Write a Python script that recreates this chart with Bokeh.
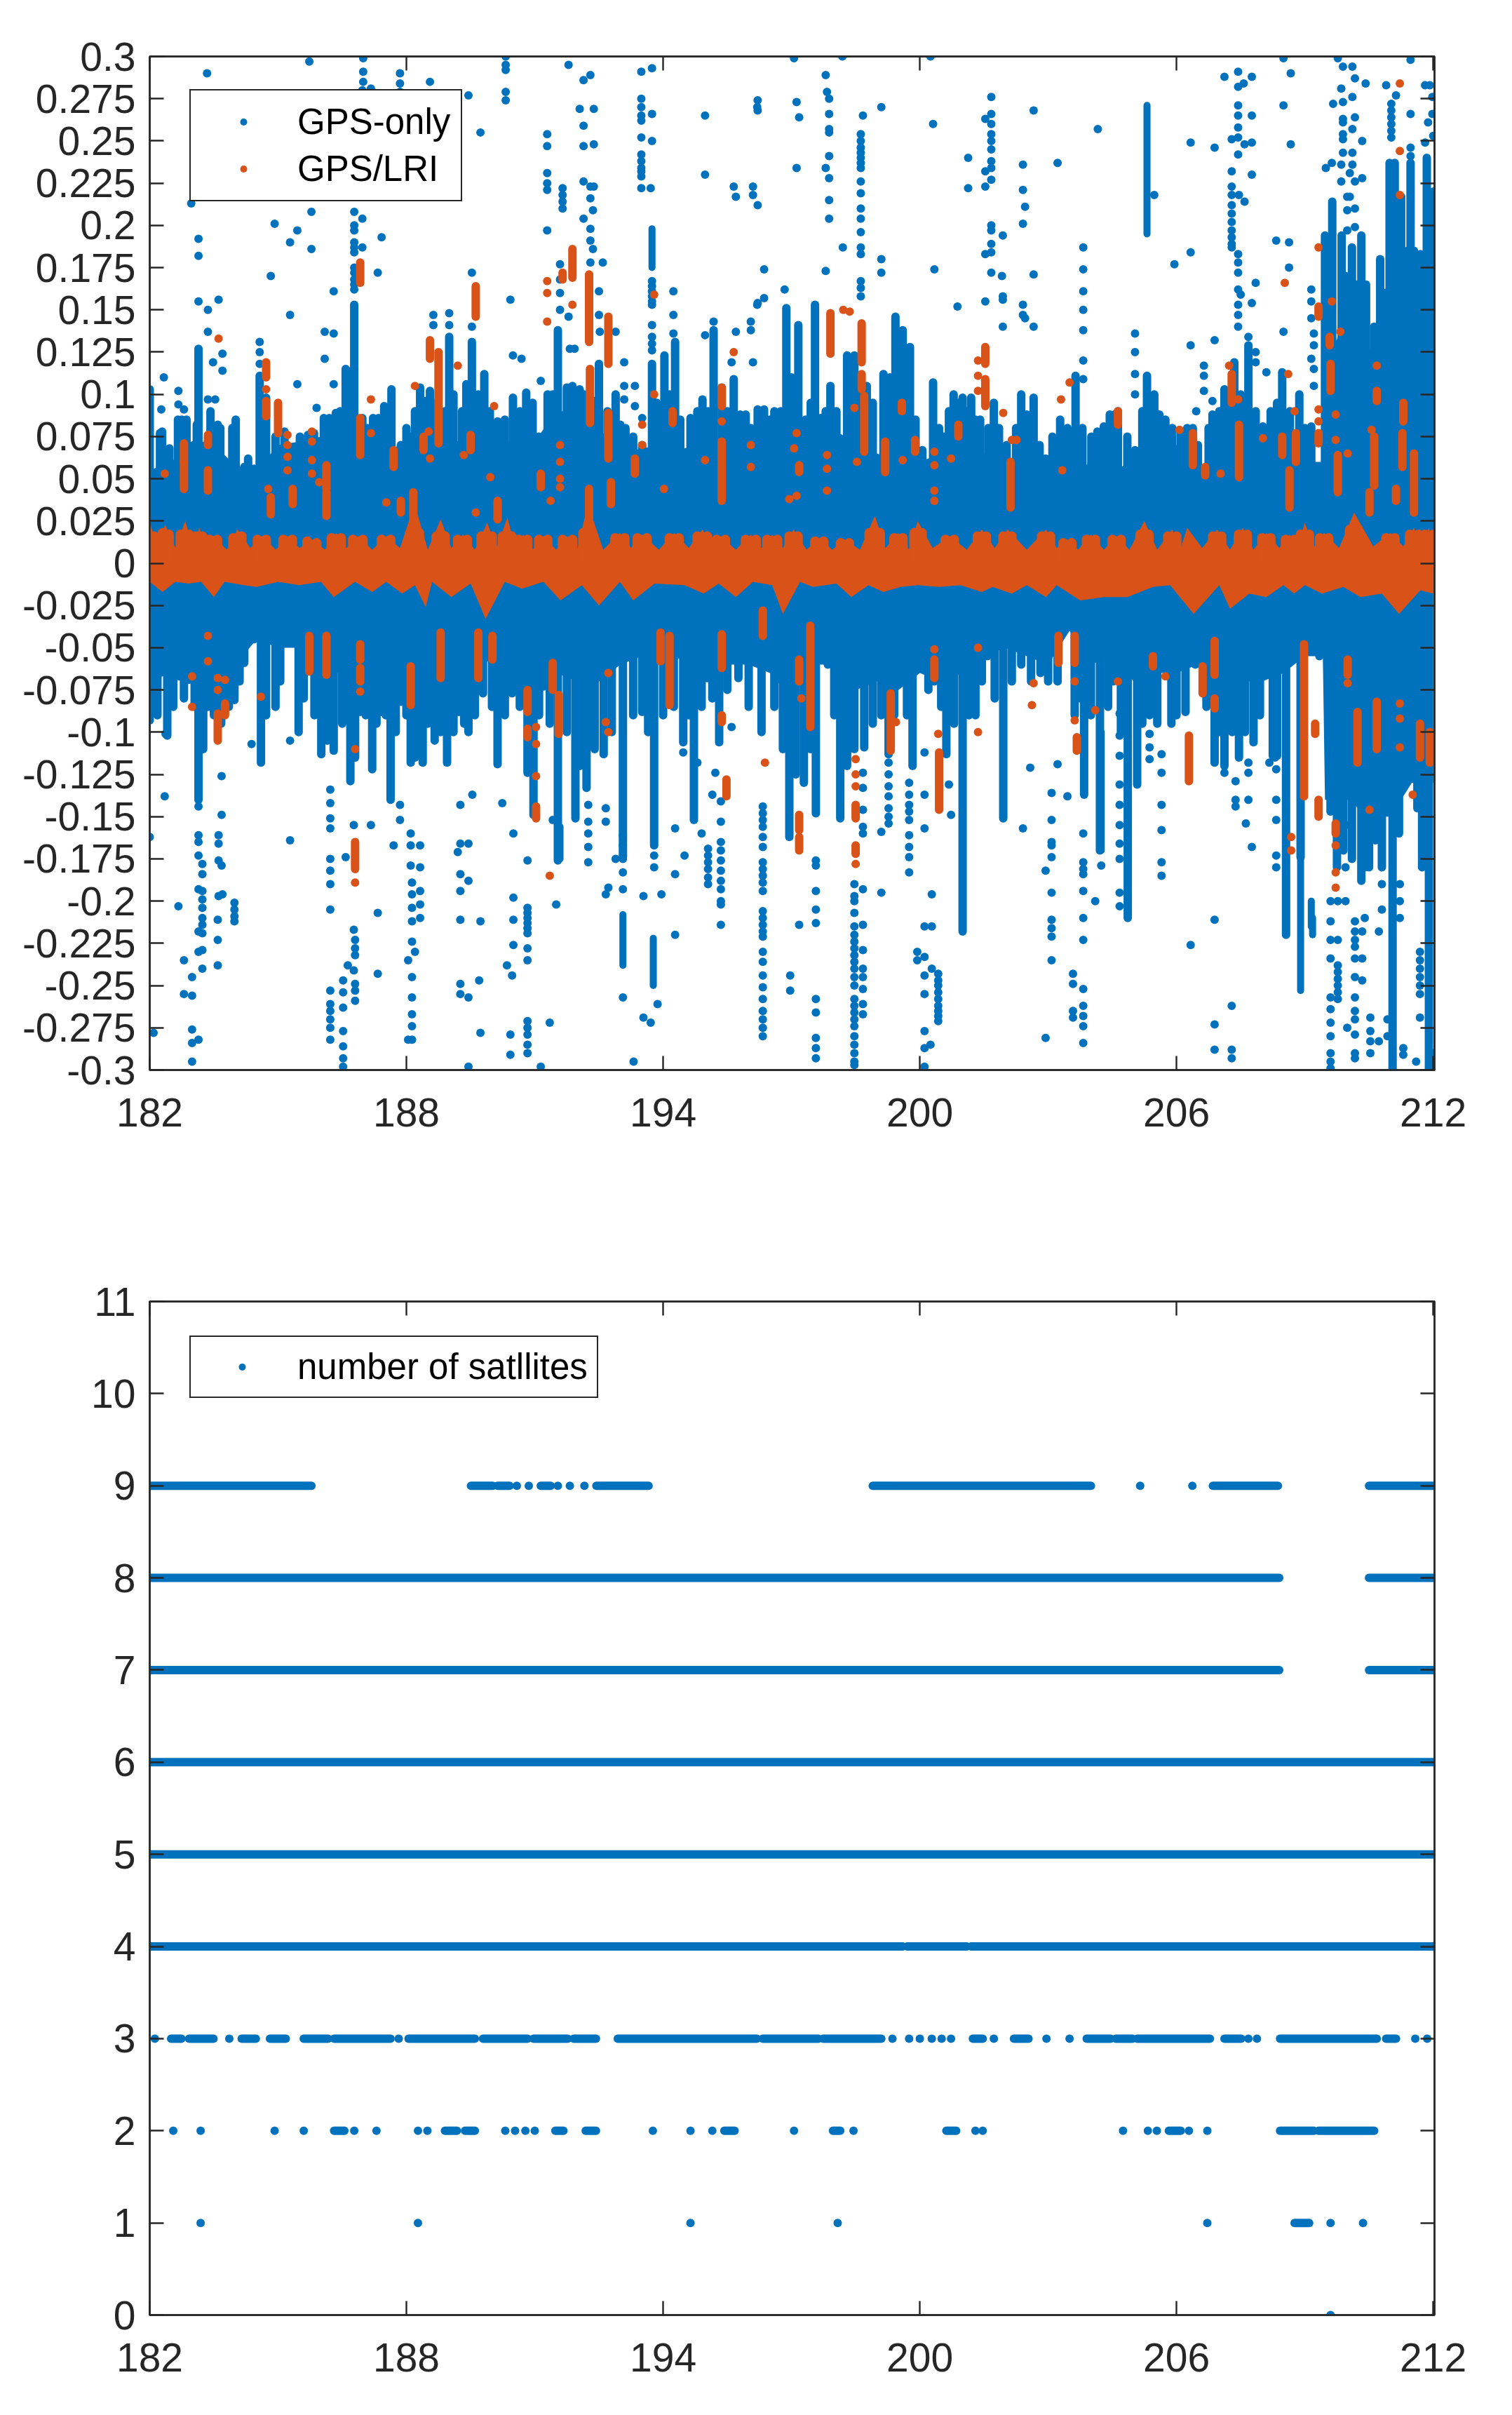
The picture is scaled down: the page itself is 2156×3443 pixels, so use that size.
from bokeh.plotting import figure
from bokeh.layouts import column
from bokeh.models import FixedTicker, LinearAxis, Range1d, Legend, LegendItem
from bokeh.embed import file_html
from bokeh.resources import INLINE

BLUE = "#0072BD"
ORANGE = "#D95319"
INK = "#262626"
FONT = "Liberation Sans"

x_ticks = [182, 188, 194, 200, 206, 212]
y1_ticks = [-0.3, -0.275, -0.25, -0.225, -0.2, -0.175, -0.15, -0.125, -0.1, -0.075, -0.05, -0.025, 0,
            0.025, 0.05, 0.075, 0.1, 0.125, 0.15, 0.175, 0.2, 0.225, 0.25, 0.275, 0.3]
y1_labels = ["-0.3", "-0.275", "-0.25", "-0.225", "-0.2", "-0.175", "-0.15", "-0.125", "-0.1", "-0.075", "-0.05", "-0.025", "0",
             "0.025", "0.05", "0.075", "0.1", "0.125", "0.15", "0.175", "0.2", "0.225", "0.25", "0.275", "0.3"]
y2_ticks = [0, 1, 2, 3, 4, 5, 6, 7, 8, 9, 10, 11]

# GPS-only: dense core envelope
blue_core_x = [182, 182.5, 183, 183.5, 184, 184.5, 185, 185.5, 186, 186.5, 187, 187.5, 188, 188.5, 189, 189.5, 190, 190.5, 191, 191.5,
               192, 192.5, 193, 193.5, 194, 194.5, 195, 195.5, 196, 196.5, 197, 197.5, 198, 198.5, 199, 199.5, 200, 200.5, 201, 201.5,
               202, 202.5, 203, 203.5, 204, 204.5, 205, 205.5, 206, 206.5, 207, 207.5, 208, 208.5, 209, 209.42, 209.47, 210, 210.5, 211, 211.5, 212]
blue_core_top = [.055, .06, .07, .07, .058, .055, .07, .072, .075, .075, .072, .068, .07, .072, .07, .075, .07, .072, .072, .09,
                 .09, .08, .065, .068, .07, .068, .072, .068, .068, .07, .075, .075, .075, .07, .065, .06, .06, .065, .068, .065,
                 .06, .055, .058, .052, .06, .055, .06, .075, .07, .058, .055, .065, .065, .065, .06, .06, .12, .144, .125, .16, .16, .165]
blue_core_bot = [-.07, -.065, -.055, -.07, -.06, -.045, -.05, -.05, -.065, -.065, -.07, -.07, -.07, -.07, -.07, -.07, -.055, -.06, -.055, -.065,
                 -.07, -.07, -.06, -.055, -.06, -.055, -.055, -.06, -.06, -.065, -.08, -.06, -.06, -.075, -.07, -.075, -.065, -.07, -.065, -.055,
                 -.05, -.055, -.06, -.04, -.06, -.055, -.07, -.065, -.065, -.06, -.07, -.07, -.07, -.065, -.055, -.055, -.14, -.14, -.15, -.15, -.13, -.13]

# GPS-only: comb of spikes, (day, tip)
blue_up_a = [(182,.103),(182.12,.053),(182.24,.077),(182.29,.078),(182.46,.068),(182.66,.085),(182.75,.085),(182.86,.085),(183.03,.07),(183.14,.127),(183.31,.07),(183.42,.09),
             (183.59,.082),(183.65,.08),(183.76,.055),(184.01,.085),(184.21,.057),(184.44,.056),(184.57,.111),(184.72,.098),(184.94,.075),(185.28,.055),(185.51,.075),
             (185.84,.077),(186.07,.086),(186.35,.089),(186.58,.115),(186.62,.114),(186.78,.153),(186.97,.086),(187.22,.086),(187.48,.093),(187.55,.092),(187.65,.103),(187.87,.07),
             (188.1,.075),(188.32,.104),(188.55,.102),(188.78,.09),(189,.134),(189.23,.07),(189.4,.106),(189.53,.131),(189.68,.1),(189.82,.112),
             (190.13,.084),(190.49,.098),(190.8,.101),(191.09,.075),(191.3,.1),(191.54,.138),(191.75,.104),(191.88,.105),(192.05,.103),(192.27,.098),(192.5,.118),(192.89,.1),
             (193.12,.08),(193.51,.07),(193.74,.118),(194.03,.123),(194.28,.131),(194.64,.086),(194.92,.097),(195.18,.138),(195.37,.104),(195.65,.109),(195.93,.088)]
blue_up_b = [(196.21,.091),(196.36,.091),(196.6,.09),(196.88,.151),(197.16,.141),(197.33,.085),(197.55,.153),(197.68,.086),(197.91,.105),(198.13,.074),
             (198.3,.123),(198.47,.123),(198.76,.105),(199.15,.112),(199.43,.146),(199.6,.138),(199.77,.128),(200.06,.067),(200.31,.107),(200.56,.075),
             (200.79,.1),(201,.098),(201.2,.098),(201.41,.085),(201.73,.095),(202.03,.07),(202.37,.1),(202.66,.098),(202.94,.062),(203.28,.085),
             (203.64,.111),(204.01,.075),(204.3,.081),(204.44,.088),(204.63,.09),(205.03,.067),(205.31,.111),(205.48,.1),(205.74,.085),(206.1,.077),
             (206.38,.08),(206.62,.053),(206.84,.088),(207.12,.103),(207.35,.119),(207.68,.129),(208.02,.081),(208.47,.113),(208.87,.1),(209.15,.081)]
blue_up_c = [(183.1,.082),(183.93,.08),(184.3,.062),(185.15,.078),(185.7,.076),(186.2,.086),(186.45,.09),(187.08,.08),(187.35,.086),(188,.08),(188.2,.09),(188.45,.096),(188.65,.095),(188.9,.09),(189.1,.1),(189.3,.09),
             (189.95,.09),(190.3,.085),(190.65,.09),(190.95,.095),(191.42,.1),(192.15,.1),(192.4,.096),(192.7,.09),(193,.082),(193.3,.075),(193.85,.095),(194.15,.1),(194.4,.085),(194.8,.09),(195.05,.09),(195.5,.09),(195.8,.088),(196.05,.08),
             (196.5,.085),(196.75,.09),(197,.11),(197.45,.095),(197.8,.09),(198.05,.09),(198.6,.1),(198.9,.095),(199.3,.11),(199.7,.11),(199.9,.085),(200.45,.08),(200.68,.09),(200.9,.095),(201.1,.09),(201.3,.085),(201.6,.08),(201.85,.08),
             (202.25,.08),(202.5,.088),(202.8,.07),(203.1,.075),(203.45,.08),(203.8,.08),(204.15,.078),(204.55,.088),(204.85,.075),(205.2,.09),(205.6,.088),(205.9,.08),(206.25,.08),(206.5,.07),(206.75,.08),(207,.09),(207.2,.1),(207.5,.1),(207.85,.09),(208.2,.09),(208.35,.095),(208.65,.09),(209,.08)]
blue_up_right = [(209.47,.194),(209.55,.19),(209.64,.214),(209.86,.194),(209.95,.17),(210.1,.187),(210.2,.165),(210.32,.194),(210.43,.165),(210.62,.14),(210.76,.18),(210.88,.16),
                 (210.98,.237),(211.1,.237),(211.25,.217),(211.47,.237),(211.4,.185),(211.55,.185),(211.7,.183),(211.85,.24),(211.95,.216),(212,.22)]
blue_down_a = [(182,-.093),(182.18,-.09),(182.41,-.102),(182.69,-.067),(182.91,-.069),(183.14,-.14),(183.36,-.085),(183.67,-.095),(183.98,-.081),(184.21,-.059),
               (184.44,-.045),(184.6,-.118),(184.94,-.085),(185.17,-.045),(185.39,-.045),(185.48,-.1),(185.73,-.064),(186.01,-.113),(186.3,-.111),(186.69,-.129),
               (186.92,-.088),(187.2,-.122),(187.42,-.088),(187.63,-.14),(187.87,-.082),(188.1,-.118),(188.38,-.118),(188.66,-.105),(188.95,-.118),(189.23,-.088),
               (189.45,-.1),(189.79,-.077),(190.13,-.119),(190.47,-.077),(190.83,-.124),(190.97,-.149),(191.2,-.073),(191.54,-.176),(191.95,-.151),(192.21,-.133),
               (192.61,-.113),(193.06,-.174),(193.51,-.088),(193.79,-.167),(194.47,-.106),(194.72,-.152),(195.03,-.068),(195.31,-.106),(195.76,-.068)]
blue_down_b = [(196.6,-.085),(196.95,-.162),(197.29,-.13),(197.57,-.148),(197.85,-.06),(198.14,-.151),(198.47,-.11),(198.7,-.109),(199.1,-.09),(199.27,-.113),
               (199.55,-.07),(199.83,-.12),(200.11,-.06),(200.34,-.07),(200.62,-.113),(201,-.218),(201.3,-.09),(201.58,-.055),(201.95,-.151),(202.37,-.06),
               (202.82,-.065),(203.22,-.07),(203.39,-.03),(203.62,-.09),(203.84,-.137),(204.21,-.17),(204.52,-.07),(204.86,-.21),(205.08,-.131),(205.37,-.09),
               (205.88,-.095),(206.21,-.088),(206.44,-.06),(206.89,-.118),(207.12,-.12),(207.46,-.115),(207.8,-.106),(208.03,-.064),(208.25,-.114),(208.35,-.114),(208.3,-.115),(208.56,-.22),(208.9,-.174),
               (209.15,-.05),(209.34,-.055)]
blue_down_c = [(182.55,-.085),(182.8,-.08),(183.05,-.085),(183.25,-.11),(183.5,-.09),(183.85,-.085),(184.1,-.07),(184.72,-.09),(185.05,-.07),(185.6,-.08),(185.85,-.09),(186.15,-.105),(186.5,-.095),(186.8,-.115),(187.05,-.09),(187.3,-.095),(187.52,-.09),(187.75,-.1),
               (188,-.09),(188.2,-.115),(188.5,-.095),(188.8,-.1),(189.1,-.1),(189.35,-.095),(189.6,-.09),(190,-.085),(190.3,-.09),(190.65,-.085),(191.1,-.09),(191.35,-.095),(191.75,-.1),(192.05,-.12),(192.4,-.11),(192.8,-.1),(193.3,-.09),(193.65,-.1),
               (194,-.09),(194.25,-.085),(194.6,-.09),(194.9,-.085),(195.15,-.08),(195.5,-.075),(196,-.085),(196.3,-.1),(196.8,-.11),(197.1,-.125),(197.45,-.11),(198,-.09),(198.3,-.12),(198.9,-.095),(199.4,-.09),(199.7,-.09),(200.2,-.075),(200.5,-.085),
               (200.8,-.095),(201.15,-.09),(201.45,-.07),(201.75,-.08),(202.15,-.07),(202.6,-.07),(203,-.07),(203.75,-.08),(204,-.09),(204.4,-.085),(204.7,-.1),(205.2,-.095),(205.55,-.095),(206,-.09),(206.7,-.085),(207,-.1),(207.3,-.1),(207.6,-.1),(207.95,-.09)]
blue_down_right = [(209.6,-.147),(209.75,-.18),(209.9,-.17),(210.1,-.175),(210.32,-.188),(210.5,-.18),(210.65,-.164),(210.8,-.18),(211.05,-.3),(211.2,-.16),(211.63,-.145),(211.85,-.165),(211.9,-.3),(211.74,-.18)]

# GPS-only: separate dots, (day, value, value, ...)
blue_dots_ul = [(183.34,.29),(185.73,.297),(186.99,.299,.291,.285),(186.97,.28),(187.17,.281),(187.85,.29,.284,.279),(188.55,.285),(189.45,.277),(189.73,.255),
                (190.32,.3,.295,.292,.279,.274),(191.79,.295),(192.14,.286,.259,.247,.226,.204),(192.3,.289,.223,.216,.198,.191,.178),(192.05,.269),(192.38,.269,.248,.223),
                (191.29,.254,.247,.231,.225,.221,.197),(191.65,.222,.218,.214,.21),(192.36,.209,.186),(192.59,.178),(191.59,.177,.168,.16,.15),(191.79,.146),(192.5,.161,.147),
                (193.49,.291,.275,.27,.265,.262,.252,.242,.238,.234,.232,.229,.222),(193.74,.293,.266,.25,.167,.164,.161,.158,.155,.153,.141,.134,.13,.126),(193.71,.222),
                (194.24,.161,.147,.136),(194.98,.265,.23,.135),(195.65,.223),(195.7,.217,.137),(196.1,.223,.218,.119),(196.2,.27,.153),(182.97,.213),(183.14,.192,.182,.155),
                (183.36,.15,.137,.097),(183.61,.156),(183.7,.124,.114),(183.48,.119),(182.33,.11),(182.67,.102,.094),(182.8,.091),(182.27,.091),(183.53,.097),
                (184.92,.201),(185.45,.197,.106),(185.28,.19,.147),(185.78,.186,.208),(184.83,.17),(186.3,.161,.136,.106),(186.09,.137,.121),(184.57,.131,.125,.118),(185.9,.092),
                (186.78,.208,.2,.197,.19,.187,.184,.175,.172,.168,.165,.162),(186.97,.204,.187),(187.42,.193),(187.33,.172),(189.53,.172,.14),(188.63,.147,.141),(189,.148,.141),
                (190.43,.156),(190.49,.123),(190.69,.121),(191.14,.108),(192.52,.137),(192.89,.137),(191.82,.127),(191.93,.127),(193.09,.119,.105,.097),(193.34,.105,.093),
                (193.51,.086),(195.18,.143),(196.05,.143,.138),(195.6,.119)]
blue_dots_ur = [(197.06,.299),(198.19,.3),(200.25,.3),(197.8,.289,.234,.173),(197.83,.279),(197.88,.275,.266,.257,.255,.241,.228,.215,.204),(197.12,.273,.234),(197.18,.264),
                (196.21,.274,.268,.212,.154),(198.67,.265),(198.62,.254,.25,.246,.243,.24,.237,.234,.226,.219,.21,.204,.196,.187,.183,.167,.163,.158),(199.1,.27,.18,.172),(198.2,.187),
                (196.36,.174,.157),(196.84,.162),(200.31,.26),(200.34,.174),(201.67,.276,.266,.26,.254,.25,.245,.238,.234,.227,.2,.197,.189,.184,.172),(201.53,.263,.232,.223,.183,.155),
                (201.13,.24,.222),(201.94,.194,.158,.156,.14),(201.92,.17),(202.66,.268,.171,.14),(202.41,.236,.221,.201,.153,.147),(202.46,.211,.145),(200.88,.152),(203.22,.237),
                (203.82,.187,.174,.161,.15,.138,.12,.109),(204.16,.257),(205.48,.218),(205.03,.136,.125,.112,.1),(205.95,.177),(206.33,.249,.184,.129),(206.89,.246,.132),
                (206.64,.117,.111,.102),(206.84,.096),(206.46,.09),(207.12,.288),(207.44,.291,.282,.271,.265,.258,.252,.242,.183,.178,.172,.162,.153,.147,.14),(207.57,.284),(207.76,.288,.265,.249,.23,.154),
                (207.29,.251,.232,.223,.218,.212,.207,.202,.197,.193,.189,.187),(207.59,.248,.214),(207.46,.218),(207.85,.166,.125,.119),(207.5,.159),(208.5,.299,.271,.137),(208.67,.29,.248),
                (208.33,.191),(208.63,.19,.175),(207.68,.134),(208.1,.113),(209.15,.162,.155,.145,.121),(209.21,.136,.129,.115,.105),
                (209.49,.234),(209.63,.237),(209.77,.299),(209.89,.294,.273,.263,.261,.254,.251,.243),(210.11,.294,.276,.257,.243,.236),(210.17,.287,.264,.226,.21,.199),(210.42,.284),(209.66,.272),
                (210.34,.25,.228),(209.99,.217,.209,.197),(210.05,.231,.217),(209.85,.281,.236,.226),(210.9,.283),(211.13,.277),(211.02,.272,.268,.264,.26,.256,.252),
                (211.47,.298,.266,.246,.241),(211.81,.283,.249),(211.92,.283),(211.98,.276,.266),(212,.253),(211.88,.261)]
blue_dots_ll = [(182,-.162),(182.09,-.278),(182.35,-.138),(182.37,-.101),(182.67,-.203),(182.8,-.235,-.255),(182.99,-.256,-.245,-.276,-.284,-.295),(183.14,-.144,-.161,-.165,-.173,-.193,-.218,-.23,-.282),
                (183.23,-.178,-.184,-.194,-.199,-.204,-.21,-.214,-.219,-.229,-.24),(183.61,-.161,-.166,-.176,-.197),(183.68,-.179,-.149,-.126),(183.7,-.196),(183.59,-.211,-.223,-.238),(183.98,-.201,-.205,-.209,-.212),
                (185.28,-.164,-.105),(184.38,-.107),(186.22,-.134,-.142,-.151,-.157,-.175,-.182,-.19,-.205,-.253,-.261,-.265,-.27,-.275,-.282),(186.52,-.247,-.254,-.263,-.277,-.286,-.293,-.298),
                (186.58,-.174),(186.77,-.155,-.217,-.241),(187.17,-.155),(187.33,-.207,-.243),(186.63,-.238),(186.8,-.249,-.253,-.259,-.223,-.228,-.232),(187.7,-.167),(187.85,-.143,-.152),
                (188.1,-.16,-.167,-.179),(188.32,-.167,-.18,-.194,-.202,-.21),(188.13,-.189,-.196,-.204,-.212,-.224,-.245,-.257,-.267,-.274,-.282),(188.2,-.23),(188.04,-.235,-.282),
                (189.26,-.143,-.166,-.184,-.194,-.211,-.249,-.255),(189.54,-.137),(189.45,-.166,-.188,-.257,-.298),(189.2,-.171),(189.73,-.212,-.278),(189.7,-.247),(190.24,-.142),(190.5,-.16,-.198,-.211,-.226),
                (190.83,-.176,-.204,-.207,-.21,-.213,-.216,-.219,-.228,-.235,-.271,-.275,-.279,-.285,-.29),(190.35,-.238),(190.47,-.244),(190.43,-.279,-.291),(191.14,-.298),(191.35,-.272),(191.5,-.202),(191.42,-.152),
                (192.25,-.16,-.168,-.177,-.143,-.153),(192.66,-.145,-.153,-.196),(192.89,-.175),(193.06,-.175,-.161,-.167,-.183,-.193,-.257),(192.72,-.192),(193.31,-.295),(193.54,-.197,-.269),(193.96,-.196),
                (193.79,-.173,-.18),(193.87,-.261),(193.71,-.272),(194.28,-.157,-.184,-.22),(194.5,-.173),(194.9,-.16),(195.05,-.169,-.173,-.177,-.181,-.186,-.19),(195.35,-.165,-.17,-.176,-.182,-.188,-.193,-.2,-.202,-.214,-.153,-.141),
                (195.15,-.137),(195.22,-.124),(194.8,-.118),(194.47,-.112),(195.6,-.097)]
blue_dots_lr = [(196.33,-.144,-.148,-.152,-.156,-.162,-.168,-.177,-.181,-.185,-.189,-.194,-.206,-.21,-.214,-.218,-.221,-.23,-.236,-.244,-.251,-.258,-.265,-.27,-.275,-.28),(196.97,-.244,-.253),(197.18,-.214),
                (197.57,-.176,-.179,-.194,-.205,-.213,-.258,-.266,-.281,-.287,-.293),(198.47,-.19,-.197,-.2,-.207,-.215,-.22,-.224,-.228,-.232,-.236,-.24,-.245,-.25,-.258,-.262,-.266,-.27,-.274,-.28,-.285,-.29,-.295,-.297),
                (198.67,-.124,-.133,-.146,-.156,-.16,-.193,-.214,-.229,-.24,-.245,-.252,-.261,-.267),(199.1,-.195,-.159),(199.27,-.118,-.125,-.132,-.138,-.145,-.15,-.154),(199.75,-.13,-.137,-.143,-.147,-.152,-.161,-.168,-.174,-.183),
                (200.11,-.112,-.137,-.157,-.215,-.233,-.244,-.255,-.277,-.287,-.298),(199.94,-.23,-.235),(200.28,-.215,-.196,-.24),(200.43,-.243,-.247,-.25,-.254,-.258,-.262,-.265,-.268,-.271),(200.25,-.285),(200.73,-.149),(200.68,-.131),
                (202.94,-.182,-.281),(202.41,-.157),(202.58,-.121),(203.22,-.119),(203.45,-.138),(203.08,-.136,-.152,-.165,-.167,-.174,-.195,-.211,-.216,-.221,-.235),(203.58,-.243,-.249,-.265,-.269),
                (203.82,-.252,-.262,-.268,-.274,-.284,-.16,-.177,-.181,-.184,-.194,-.21,-.223),(204.1,-.2),(204.24,-.179),(204.67,-.089,-.102,-.114,-.131,-.143,-.155,-.166,-.175,-.195,-.203),
                (205.37,-.101,-.109,-.116),(205.65,-.113,-.124,-.143,-.158,-.177,-.185),(206.89,-.211,-.273,-.288),(206.33,-.226),(207.29,-.262,-.288,-.293),(207.12,-.124),(207.38,-.129,-.14,-.144),
                (207.68,-.118,-.124,-.14),(207.62,-.154),(207.76,-.168),(208.17,-.118),(208.33,-.122,-.14,-.152,-.173,-.18),
                (209.6,-.2,-.212,-.223,-.234,-.257,-.264,-.272,-.28,-.29,-.295,-.299),(209.77,-.2,-.223,-.238,-.242,-.246,-.25,-.254,-.258),(210.17,-.212,-.218,-.223,-.227,-.234,-.245,-.257,-.265,-.27,-.279,-.29,-.293),
                (210.34,-.218,-.234,-.247),(209.99,-.275),(210.53,-.269,-.277,-.283,-.29),(210.73,-.218,-.283),(210.93,-.27,-.28),(211.69,-.23,-.235,-.24,-.245,-.25,-.255,-.269),(211.3,-.287,-.291),(211.6,-.295),(212,-.29),
                (211.22,-.19,-.2,-.21),(210.4,-.16,-.18,-.21),(209.95,-.155,-.18,-.2),(210.8,-.19,-.205)]
# GPS-only: unbroken runs of dots, (day, from, to)
blue_runs = [(205.31,.271,.195),(193.74,.198,.175),(208.55,-.145,-.22),(208.9,-.14,-.253),(191.59,-.156,-.175),(193.06,-.208,-.238),(193.77,-.222,-.25),(204.86,-.15,-.21),(204.24,-.1,-.17),(209.15,-.2,-.215),(209.18,-.21,-.22)]

# GPS/LRI: dense core envelope
orange_top_x = [182, 182.2, 182.36, 182.6, 182.83, 183, 183.16, 183.3, 183.49, 183.8, 184.05, 184.35, 184.62, 184.95, 185.23, 185.5, 185.79, 186.1, 186.36, 186.6, 186.87, 187.2, 187.53, 187.85, 188.19, 188.5, 188.8, 189.05,
                189.32, 189.6, 189.89, 190.1, 190.36, 190.55, 190.73, 190.95, 191.2, 191.5, 191.77, 192, 192.24, 192.6, 192.99, 193.25, 193.51, 193.9, 194.26, 194.6, 194.92, 195.15, 195.34, 195.7, 196.05, 196.3,
                196.55, 196.8, 197.05, 197.35, 197.65, 197.95, 198.25, 198.6, 198.95, 199.2, 199.5, 199.75, 199.95, 200.3, 200.7, 201.1, 201.45, 201.75, 202.05, 202.5, 202.95, 203.2, 203.45, 203.7, 204, 204.3, 204.6, 204.9, 205.25, 205.55,
                205.9, 206.1, 206.25, 206.6, 206.95, 207.25, 207.55, 207.8, 208.1, 208.4, 208.65, 208.8, 209, 209.2, 209.45, 209.8, 210.15, 210.6, 211, 211.3, 211.55, 211.7, 211.9, 212]
orange_top_y = [.024, .009, .023, .009, .025, .01, .021, .009, .016, .008, .02, .009, .016, .008, .016, .009, .014, .008, .018, .009, .016, .008, .016, .009, .035, .008, .026, .009,
                .017, .008, .024, .009, .027, .009, .017, .008, .016, .008, .016, .009, .035, .008, .018, .009, .017, .008, .018, .009, .02, .009, .016, .008, .017, .009,
                .017, .009, .02, .008, .015, .008, .014, .008, .028, .009, .018, .008, .025, .009, .016, .008, .02, .009, .02, .008, .02, .009, .014, .008, .017, .008, .016, .008, .025, .008,
                .02, .009, .021, .009, .02, .008, .021, .008, .018, .009, .017, .008, .024, .009, .018, .009, .03, .01, .018, .01, .021, .01, .021, .012]
orange_bot_x = [182, 182.3, 182.6, 182.9, 183.2, 183.5, 183.75, 184.2, 184.5, 185, 185.5, 186, 186.3, 186.8, 187.2, 187.53, 187.9, 188.2, 188.45, 188.6, 189.05, 189.5, 189.85, 190.3, 190.7, 191.2, 191.6, 192.1, 192.5, 192.99, 193.3,
                193.8, 194.5, 194.95, 195.3, 195.7, 196.1, 196.55, 196.8, 197.2, 197.5, 198.05, 198.4, 198.8, 199.15, 199.55, 199.95, 200.45, 200.95, 201.45, 201.7, 202.15, 202.5, 202.95, 203.2, 203.75, 204.3, 204.85, 205.45, 205.85, 206.4, 207, 207.25,
                207.7, 208.1, 208.5, 208.75, 209.0, 209.4, 209.9, 210.3, 210.8, 211.2, 211.7, 212]
orange_bot_y = [-.011, -.017, -.011, -.012, -.011, -.02, -.011, -.013, -.014, -.011, -.013, -.011, -.02, -.011, -.017, -.011, -.018, -.013, -.026, -.011, -.02, -.012, -.033, -.011, -.015, -.011, -.022, -.013, -.025, -.011, -.022,
                -.012, -.013, -.018, -.012, -.02, -.011, -.013, -.03, -.011, -.014, -.012, -.02, -.013, -.017, -.014, -.013, -.014, -.013, -.017, -.014, -.018, -.013, -.02, -.013, -.022, -.02, -.02, -.014, -.013, -.03, -.013, -.027,
                -.018, -.02, -.013, -.018, -.013, -.018, -.014, -.02, -.018, -.03, -.016, -.018]
# GPS/LRI: rounded shoulders of the humps along the core, (day, tip)
orange_comb_top = [(182.1,.016),(182.3,.018),(182.45,.017),(182.72,.017),(182.92,.017),(183.08,.016),(183.23,.016),(183.4,.014),(183.58,.014),(183.95,.015),(184.15,.016),(184.52,.014),(184.72,.014),(185.12,.014),(185.33,.014),(185.68,.013),(185.9,.012),
                   (186.25,.015),(186.47,.015),(186.75,.014),(186.98,.014),(187.42,.014),(187.63,.014),(188.08,.018),(188.3,.018),(188.7,.016),(188.9,.016),(189.2,.014),(189.42,.014),(189.75,.016),(190,.016),(190.25,.016),(190.46,.016),(190.63,.014),(190.83,.014),
                   (191.1,.014),(191.3,.014),(191.65,.014),(191.88,.014),(192.13,.018),(192.35,.018),(192.88,.015),(193.1,.015),(193.4,.015),(193.62,.015),(194.15,.015),(194.37,.015),(194.8,.016),(195.03,.016),(195.25,.014),(195.45,.014),(195.93,.014),(196.17,.014),
                   (196.43,.014),(196.67,.014),(196.95,.016),(197.15,.016),(197.55,.013),(197.75,.013),(198.15,.012),(198.35,.012),(198.82,.018),(199.07,.018),(199.4,.015),(199.6,.015),(199.87,.018),(200.05,.018),(200.6,.014),(200.8,.014),(201.35,.016),(201.55,.016),
                   (201.95,.016),(202.15,.016),(202.85,.016),(203.05,.016),(203.35,.012),(203.55,.012),(203.9,.014),(204.1,.014),(204.5,.014),(204.7,.014),(205.15,.017),(205.35,.017),(205.8,.016),(206,.016),(206.85,.016),(207.05,.016),(207.45,.017),(207.65,.017),
                   (208,.015),(208.2,.015),(208.55,.014),(208.75,.014),(208.9,.017),(209.1,.017),(209.35,.015),(209.55,.015),(210.05,.02),(210.25,.02),(210.9,.015),(211.1,.015),(211.45,.017),(211.65,.017),(211.8,.017),(212,.017)]
# GPS/LRI: runs of dots, (day, from, to)
orange_runs = [(186.92,.178,.166),(189.62,.164,.146),(188.55,.132,.121),(188.75,.125,.071),(191.65,.172,.168),(191.88,.186,.169),(192.27,.171,.131),(192.72,.146,.118),(192.29,.115,.083),(192.72,.089,.062),
               (184.72,.119,.11),(184.72,.096,.087),(185,.095,.077),(183.36,.076,.07),(182.8,.071,.06),(183.36,.055,.043),(186.13,.058,.044),(186.13,.042,.028),(186.92,.086,.064),(187.7,.067,.057),(188.4,.075,.067),
               (189.5,.076,.067),(195.37,.104,.093),(195.37,.072,.037),(194.22,.09,.083),(193.34,.062,.053),(188.16,.042,.019),(192.27,.044,.019),(192.78,.048,.035),(190.13,.037,.026),(187.87,.037,.03),(191.14,.053,.045),(182.8,.06,.044),(185.34,.044,.035),(184.83,.039,.029),
               (197.91,.148,.124),(198.64,.142,.119),(198.64,.112,.103),(198.7,.099,.066),(199.58,.095,.09),(199.19,.072,.054),(199.89,.073,.066),(197.18,.058,.054),(201.53,.128,.118),(201.53,.109,.093),(200.9,.082,.075),(202.12,.06,.033),
               (204.63,.09,.082),(206.38,.077,.058),(206.67,.057,.052),(207.29,.112,.095),(207.46,.082,.051),(208.47,.075,.064),(208.79,.077,.06),(208.64,.055,.033),(209.32,.152,.146),(209.58,.134,.129),(209.6,.118,.102),(209.32,.077,.071),
               (209.77,.064,.042),(210.68,.102,.096),(211.3,.095,.084),(211.28,.077,.057),(210.62,.075,.046),(211.55,.065,.03),(211.13,.044,.037),(210.51,.042,.03),
               (186.8,-.165,-.181),(186.92,-.048,-.057),(186.92,-.062,-.07),(195.48,-.128,-.138),(195.37,-.09,-.094),(195.37,-.042,-.062),(191.03,-.144,-.151),(190.83,-.075,-.088),(190.83,-.098,-.103),(191.56,-.078,-.101),(191.42,-.059,-.075),
               (183.59,-.089,-.105),(183.76,-.083,-.09),(185.73,-.043,-.064),(186.13,-.043,-.066),(188.1,-.061,-.084),(188.8,-.041,-.068),(189.68,-.041,-.068),(190.01,-.043,-.057),(193.94,-.041,-.058),(194.15,-.043,-.084),
               (196.33,-.028,-.043),(197.18,-.057,-.07),(197.44,-.037,-.097),(197.18,-.149,-.158),(197.18,-.162,-.17),(198.5,-.143,-.151),(198.5,-.167,-.172),(199.32,-.077,-.111),(200.34,-.057,-.068),(200.45,-.112,-.146),(203.24,-.043,-.059),(203.62,-.043,-.059),(203.67,-.103,-.111),
               (205.45,-.055,-.061),(206.29,-.102,-.129),(206.61,-.061,-.077),(206.89,-.046,-.066),(206.89,-.08,-.086),(208.98,-.048,-.138),(209.24,-.095,-.101),(209.32,-.14,-.15),(210,-.057,-.066),(210.23,-.088,-.118),(210.68,-.082,-.11),
               (209.72,-.154,-.16),(211.69,-.095,-.115),(211.92,-.1,-.118)]
# GPS/LRI: separate dots, (day, value, value, ...)
orange_dots = [(191.29,.167,.16,.143),(191.88,.153),(183.61,.133),(185.22,.076,.07,.063,.055),(185.79,.078,.072,.061,.053),(187.17,.097,.077),(188.2,.105),(188.52,.078),(188.55,.062),(189.2,.117),(190.05,.093),(191.59,.07,.06,.05,.045),
               (184.72,.103),(193.51,.082,.07),(193.79,.1,.159),(195.65,.125),(194.98,.061),(196.05,.07,.057),(189.62,.03),(191.37,.037),(194.02,.044),(182.35,.053),(187.53,.036),(184.77,.044),(185.96,.048),(189.96,.051),(189.34,.064),(195.37,.084),
               (198.21,.15),(198.36,.149),(198.47,.092),(198.53,.06),(199.6,.061),(197.12,.077,.04),(197.06,.068),(197.83,.064,.056,.043),(196.95,.038),(201.36,.12,.111,.102),(201.95,.089),(202.15,.073),(202.26,.073),(200.73,.062),(200.34,.066,.058,.043,.037),
               (203.3,.097),(203.5,.107),(203.33,.055),(206.07,.079),(207.03,.053),(207.23,.117),(207.44,.097),(208.02,.074),(208.76,.09),(209.32,.187,.091,.084),(208.53,.166),(208.61,.112),(209.63,.155),(209.83,.137),(209.72,.088,.073),(210,.065),(210.68,.117),(210.56,.079),(211.22,.284,.244,.218),
               (186.8,-.189,-.11),(186.92,-.076),(191.35,-.185),(191.03,-.097,-.107,-.126),(192.66,-.094),(192.72,-.1,-.065),(183.59,-.068,-.075),(183.76,-.069),(182.99,-.067,-.085),(183.36,-.058,-.043),(184.6,-.079),
               (196.38,-.118),(197.23,-.08),(198.5,-.116,-.125,-.132,-.178),(199.44,-.094),(200.34,-.051),(200.43,-.101),(201.36,-.05,-.1),(202.66,-.071),(202.62,-.084),(203.62,-.07,-.093),(204.1,-.087),(204.63,-.07),(205.74,-.067),
               (208.68,-.162,-.17),(210,-.071),(211.22,-.083,-.092,-.109),(209.72,-.167,-.183,-.192),(210.51,-.146),(211.52,-.137)]

# number of satellites: spans (from, to) and lone dots per level
level_spans_9 = [(182,185.78),(189.51,190.02),(190.13,190.41),(191.14,191.37),(192.44,193.66),(198.9,204),(206.85,208.37),(210.5,212)]
level_dots_9 = [190.58,190.86,191.54,191.82,192.16,205.15,206.37]
level_spans_8 = [(182,208.4),(210.5,212)]
level_spans_7 = [(182,208.4),(210.5,212)]
level_spans_6 = [(182,212)]
level_spans_5 = [(182,212)]
level_spans_4 = [(182,199.6),(199.7,201.1),(201.2,212)]
level_spans_3 = [(182.5,182.74),(182.92,183.49),(184.15,184.48),(184.81,185.18),(185.6,186.17),(186.31,187.63),(188.05,189.6),(189.79,190.83),(190.97,191.77),(191.91,192.43),(192.94,196.19),
                 (196.33,197.63),(197.74,199.1),(201.24,201.47),(202.2,202.54),(203.9,204.46),(204.58,204.97),(205.08,206.78),(207.12,207.51),(208.42,210.68),(210.9,211.13)]
level_dots_3 = [182.12,183.86,187.82,199.36,199.75,200,200.28,200.51,200.73,201.73,202.96,203.5,207.68,207.88,211.58,211.86]
level_spans_2 = [(186.31,186.55),(188.9,189.18),(189.37,189.6),(191.48,191.67),(192.19,192.43),(195.43,195.67),(197.97,198.14),(200.62,200.85),(205.82,206.1),(208.42,209.21),(209.32,210.62)]
level_dots_2 = [182.55,183.19,184.92,185.6,186.78,187.3,188.27,188.49,190.31,190.54,190.78,191,193.76,194.64,195.15,197.06,198.45,201.3,201.47,204.75,205.33,205.54,206.29,206.72]
level_spans_1 = [(208.76,209.1)]
level_dots_1 = [183.19,188.27,194.64,198.08,206.72,209.6,210.36]
level_dots_0 = [209.6]


def make_fig(y_range, y_ticks, overrides, top, bottom):
    p = figure(width=2140, height=top + 1445 + bottom, frame_width=1832, frame_height=1445,
               x_range=Range1d(182, 212.03), y_range=y_range, output_backend="svg", toolbar_location=None,
               min_border_left=213, min_border_right=95, min_border_top=top, min_border_bottom=bottom,
               outline_line_color=INK, outline_line_width=2.4, background_fill_color="white", border_fill_color="white")
    p.grid.visible = False
    for ax, ticks in ((p.xaxis[0], x_ticks), (p.yaxis[0], y_ticks)):
        ax.ticker = FixedTicker(ticks=ticks)
        ax.major_tick_in, ax.major_tick_out = 20, 0
        ax.minor_tick_line_color = None
        ax.axis_line_color = INK
        ax.axis_line_width = 2.4
        ax.major_tick_line_color = INK
        ax.major_tick_line_width = 2.4
        ax.major_label_text_font = FONT
        ax.major_label_text_font_size = "57px"
        ax.major_label_text_color = INK
    p.xaxis[0].major_label_standoff = 40
    p.yaxis[0].major_label_standoff = 20
    p.yaxis[0].major_label_overrides = overrides
    for side, ticks in (("above", x_ticks), ("right", y_ticks)):
        extra = LinearAxis(ticker=FixedTicker(ticks=ticks), major_tick_in=20, major_tick_out=0,
                           minor_tick_line_color=None, axis_line_color=INK, axis_line_width=2.4,
                           major_tick_line_color=INK, major_tick_line_width=2.4,
                           major_label_overrides={t: "" for t in ticks}, major_label_standoff=0,
                           major_label_text_font_size="1px")
        p.add_layout(extra, side)
    return p


def expand(groups):
    xs, ys = [], []
    for g in groups:
        for v in g[1:]:
            xs.append(g[0])
            ys.append(v)
    return xs, ys


def draw_runs(p, runs, color, width=10):
    p.segment([r[0] for r in runs], [r[1] for r in runs], [r[0] for r in runs], [r[2] for r in runs],
              line_color=color, line_width=width, line_cap="round")


# ---- upper panel
p1 = make_fig(Range1d(-0.3, 0.3), y1_ticks, {t: l for t, l in zip(y1_ticks, y1_labels)}, 80, 270)
p1.varea(blue_core_x, 0, blue_core_top, fill_color=BLUE)
p1.varea(blue_core_x, blue_core_bot, 0, fill_color=BLUE)
up = blue_up_a + blue_up_b + blue_up_c + blue_up_right
down = blue_down_a + blue_down_b + blue_down_c + blue_down_right
draw_runs(p1, [(x, 0, t) for x, t in up], BLUE, 12)
draw_runs(p1, [(x, 0, t) for x, t in down], BLUE, 12)
draw_runs(p1, blue_runs, BLUE)
bx, by = expand(blue_dots_ul + blue_dots_ur + blue_dots_ll + blue_dots_lr)
r_blue = p1.scatter(bx, by, marker="circle", size=12, fill_color=BLUE, line_color=None)

p1.varea(orange_top_x, 0, orange_top_y, fill_color=ORANGE)
p1.varea(orange_bot_x, orange_bot_y, 0, fill_color=ORANGE)
draw_runs(p1, [(x, 0, t) for x, t in orange_comb_top], ORANGE, 14)
draw_runs(p1, orange_runs, ORANGE, 12)
ox, oy = expand(orange_dots)
r_orange = p1.scatter(ox, oy, marker="circle", size=12, fill_color=ORANGE, line_color=None)

leg1 = Legend(items=[LegendItem(label="GPS-only", renderers=[r_blue]), LegendItem(label="GPS/LRI", renderers=[r_orange])],
              location=(57, 1238), orientation="vertical", padding=15, margin=0, spacing=8,
              glyph_width=120, glyph_height=25, label_standoff=17, label_text_font=FONT, label_text_font_size="51px",
              label_text_color="#000000", label_height=57, border_line_color=INK, border_line_width=2.4, border_line_alpha=1,
              background_fill_alpha=1, label_text_baseline="middle")
p1.add_layout(leg1)

# ---- lower panel
p2 = make_fig(Range1d(0, 11), y2_ticks, {}, 60, 125)
levels_spans = {9: level_spans_9, 8: level_spans_8, 7: level_spans_7, 6: level_spans_6, 5: level_spans_5,
                4: level_spans_4, 3: level_spans_3, 2: level_spans_2, 1: level_spans_1}
levels_dots = {9: level_dots_9, 3: level_dots_3, 2: level_dots_2, 1: level_dots_1, 0: level_dots_0}
sx0, sx1, sy = [], [], []
for lvl, spans in levels_spans.items():
    for a, b in spans:
        sx0.append(a)
        sx1.append(b)
        sy.append(lvl)
p2.segment(sx0, sy, sx1, sy, line_color=BLUE, line_width=12, line_cap="round")
dx, dy = [], []
for lvl, vals in levels_dots.items():
    dx += vals
    dy += [lvl] * len(vals)
r_sat = p2.scatter(dx, dy, marker="circle", size=12, fill_color=BLUE, line_color=None)
leg2 = Legend(items=[LegendItem(label="number of satllites", renderers=[r_sat])],
              location=(57, 1307), orientation="vertical", padding=13, margin=0,
              glyph_width=120, glyph_height=25, label_standoff=19, label_text_font=FONT, label_text_font_size="51px",
              label_text_color="#000000", label_height=54, border_line_color=INK, border_line_width=2.4, border_line_alpha=1,
              background_fill_alpha=1, label_text_baseline="middle")
p2.add_layout(leg2)

page = column(p1, p2, spacing=0)
open("out.html", "w").write(file_html(page, INLINE))
